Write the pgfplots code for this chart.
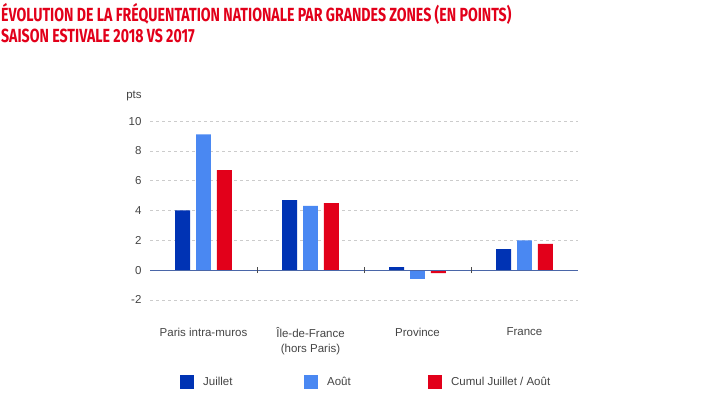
\documentclass[border=0pt]{standalone}
\usepackage{fontspec}
\setmainfont{Liberation Sans}
\newfontfamily\titlefont[FakeStretch=0.745]{Fira Sans}
\usepackage{pgfplots}
\pgfplotsset{compat=1.18}

\definecolor{juillet}{HTML}{0033B4}
\definecolor{aout}{HTML}{4A88F2}
\definecolor{cumul}{HTML}{E2001A}
\definecolor{titlered}{HTML}{E2001A}
\definecolor{labelgray}{HTML}{444444}
\definecolor{gridgray}{HTML}{CCCCCC}
\definecolor{zeroline}{HTML}{4A66A8}

\begin{document}
\begin{tikzpicture}
\path[use as bounding box] (0pt,0pt) rectangle (716pt,-410pt);

\node[anchor=base west,inner sep=0,text=titlered,font=\titlefont\bfseries\fontsize{19}{19}\selectfont]
  at (1pt,-21pt) {ÉVOLUTION DE LA FRÉQUENTATION NATIONALE PAR GRANDES ZONES (EN POINTS)};
\node[anchor=base west,inner sep=0,text=titlered,font=\titlefont\bfseries\fontsize{19}{19}\selectfont]
  at (1pt,-42pt) {SAISON ESTIVALE 2018 VS 2017};

\node[anchor=base, inner sep=0, text=labelgray, font=\fontsize{11.5}{14}\selectfont]
  at (134pt,-98pt) {pts};

\begin{axis}[
    at={(150pt,-307.3pt)}, anchor=south west,
    scale only axis,
    width=428pt, height=193.7pt,
    xmin=-0.5, xmax=3.5,
    ymin=-2.5, ymax=10.5,
    ybar,
    bar width=0.14,
    legend image code/.code={\fill[#1] (0pt,-7pt) rectangle (14pt,7pt);},
    axis line style={draw=none},
    major tick length=0pt,
    xtick={0,1,2,3},
    xticklabels={Paris intra-muros,{Île-de-France\\(hors Paris)},Province,France},
    xticklabel style={align=center, font=\fontsize{11.5}{15}\selectfont, text=labelgray, yshift=-17pt},
    ytick={-2,0,2,4,6,8,10},
    yticklabel style={font=\fontsize{11.5}{14}\selectfont, text=labelgray, xshift=-5pt,
        /pgf/number format/assume math mode=true},
    ymajorgrids,
    major grid style={draw=gridgray, dash pattern=on 3pt off 3pt, line width=0.6pt},
    legend columns=3,
    legend style={at={(0.063,-0.385)}, anchor=west, draw=none, fill=none,
        font=\fontsize{11.5}{14}\selectfont, text=labelgray,
        /tikz/every odd column/.append style={column sep=7pt},
        /tikz/every even column/.append style={column sep=0pt}},
]
\addplot[fill=juillet, draw=none, bar shift=-0.196] coordinates {(0,4.0) (1,4.7) (2,0.2) (3,1.4)};
\addplot[fill=aout, draw=none, bar shift=0] coordinates {(0,9.1) (1,4.3) (2,-0.6) (3,2.0)};
\addplot[fill=cumul, draw=none, bar shift=0.196] coordinates {(0,6.7) (1,4.5) (2,-0.2) (3,1.75)};
\addlegendentry{\makebox[99pt][l]{Juillet}}
\addlegendentry{\makebox[99pt][l]{Août}}
\addlegendentry{Cumul Juillet / Août}

\draw[zeroline, line width=0.8pt] (axis cs:-0.5,0) -- (axis cs:3.5,0);
\draw[black!70, line width=0.6pt] (axis cs:0.5,-0.2) -- (axis cs:0.5,0.2);
\draw[black!70, line width=0.6pt] (axis cs:1.5,-0.2) -- (axis cs:1.5,0.2);
\draw[black!70, line width=0.6pt] (axis cs:2.5,-0.2) -- (axis cs:2.5,0.2);
\end{axis}
\end{tikzpicture}
\end{document}
